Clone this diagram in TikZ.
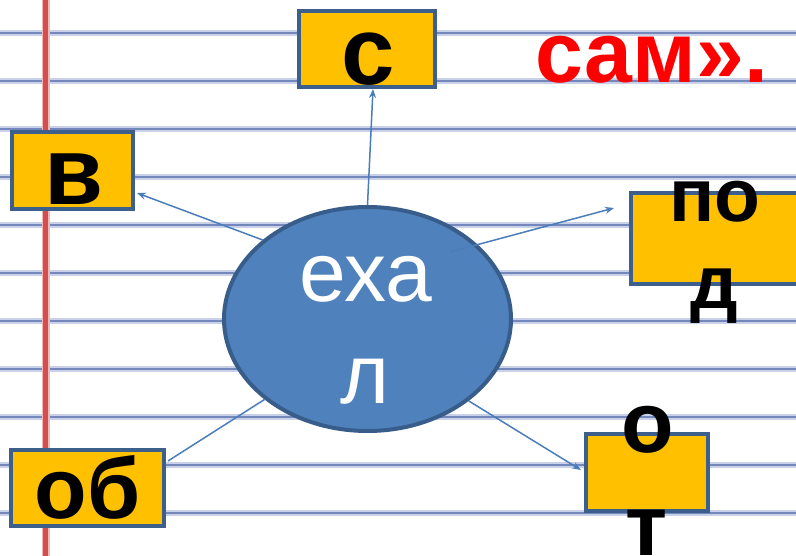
\documentclass[tikz,border=0pt]{standalone}
\usepackage{fontspec}
\setmainfont{Liberation Sans}
\usetikzlibrary{arrows.meta,shapes.geometric,calc}
\definecolor{gold}{RGB}{255,192,0}
\definecolor{boxborder}{RGB}{60,95,140}
\definecolor{ellfill}{RGB}{79,129,189}
\definecolor{ellborder}{RGB}{56,93,138}
\definecolor{conncol}{RGB}{74,126,187}
\definecolor{rulecore}{RGB}{115,135,188}
\definecolor{rulehalo}{RGB}{200,209,232}
\definecolor{margincore}{RGB}{212,78,78}
\definecolor{marginhalo}{RGB}{240,185,185}
\definecolor{titlered}{RGB}{255,0,0}
\begin{document}
\begin{tikzpicture}[x=1pt,y=-1pt,
  box/.style={draw=boxborder, line width=4pt, fill=gold, inner sep=0pt, rectangle},
  boxtxt/.style={font=\bfseries\fontsize{#1}{#1}\selectfont, text=black, inner sep=0pt, anchor=base},
  elltxt/.style={font=\fontsize{84}{84}\selectfont, text=white, inner sep=0pt, anchor=base},
  conn/.style={draw=conncol, line width=1.5pt},
  arr/.style={conn, -{Stealth[length=9pt,width=7pt,inset=3pt]}},
  rulehalo/.style={draw=rulehalo, line width=6.5pt},
  rulecore/.style={draw=rulecore, line width=2.8pt}
]
\useasboundingbox (0,0) rectangle (796,556);
\clip (0,0) rectangle (796,556);
\fill[white] (0,0) rectangle (796,556);
% ruled lines
\foreach \k in {0,...,10}{
  \draw[rulehalo] (0,33+48*\k) -- (796,33+48*\k);
  \draw[rulecore] (0,33+48*\k) -- (796,33+48*\k);
}
% margin
\draw[draw=marginhalo, line width=8pt] (45.5,0) -- (45.5,556);
\draw[draw=margincore, line width=4.5pt] (45.5,0) -- (45.5,556);

% boxes
\node[box, minimum width=136, minimum height=76] (c) at (367,49) {};
\node[box, minimum width=121, minimum height=77] (v) at (72.5,170.5) {};
\node[box, minimum width=168, minimum height=91] (pod) at (715,238.5) {};
\node[box, minimum width=153, minimum height=76] (ob) at (87.5,488) {};
\node[box, minimum width=122, minimum height=77] (ot) at (647,472.5) {};

% ellipse
\node[ellipse, draw=ellborder, line width=4pt, fill=ellfill, minimum width=287, minimum height=224, inner sep=0pt] (e) at (367.5,319) {};

% connectors
\coordinate (ps) at (450,252);
\draw[arr] (e.north) -- ($(c.south)+(6,0)$);
\draw[arr] (e.143) -- ($(v.east)+(2,22.5)$);
\draw[arr] (ps) -- ($(pod.west)+(-15,-30.5)$);
\draw[conn] (e.218) -- ($(ob.east)+(2,-27)$);
\draw[arr] (e.-39) -- ($(ot.west)+(-3,-2.5)$);

% texts
\node[boxtxt=96] (ct) at (368,85) {с};
\node[boxtxt=96] (vt) at (74,205) {в};
\node[boxtxt=75] (pt1) at (715,222) {по};
\node[boxtxt=75] (pt2) at (714,309) {д};
\node[boxtxt=86] (obt) at (87.5,518) {об};
\node[boxtxt=86] (ot1) at (647.5,452) {о};
\node[boxtxt=86] (ot2) at (647,555) {т};
\node[font=\bfseries\fontsize{86}{86}\selectfont, text=titlered, inner sep=0pt, anchor=base] (title) at (652,83) {сам».};
\node[elltxt] (e1) at (366,302) {еха};
\node[elltxt] (e2) at (365,403) {л};
\end{tikzpicture}
\end{document}
